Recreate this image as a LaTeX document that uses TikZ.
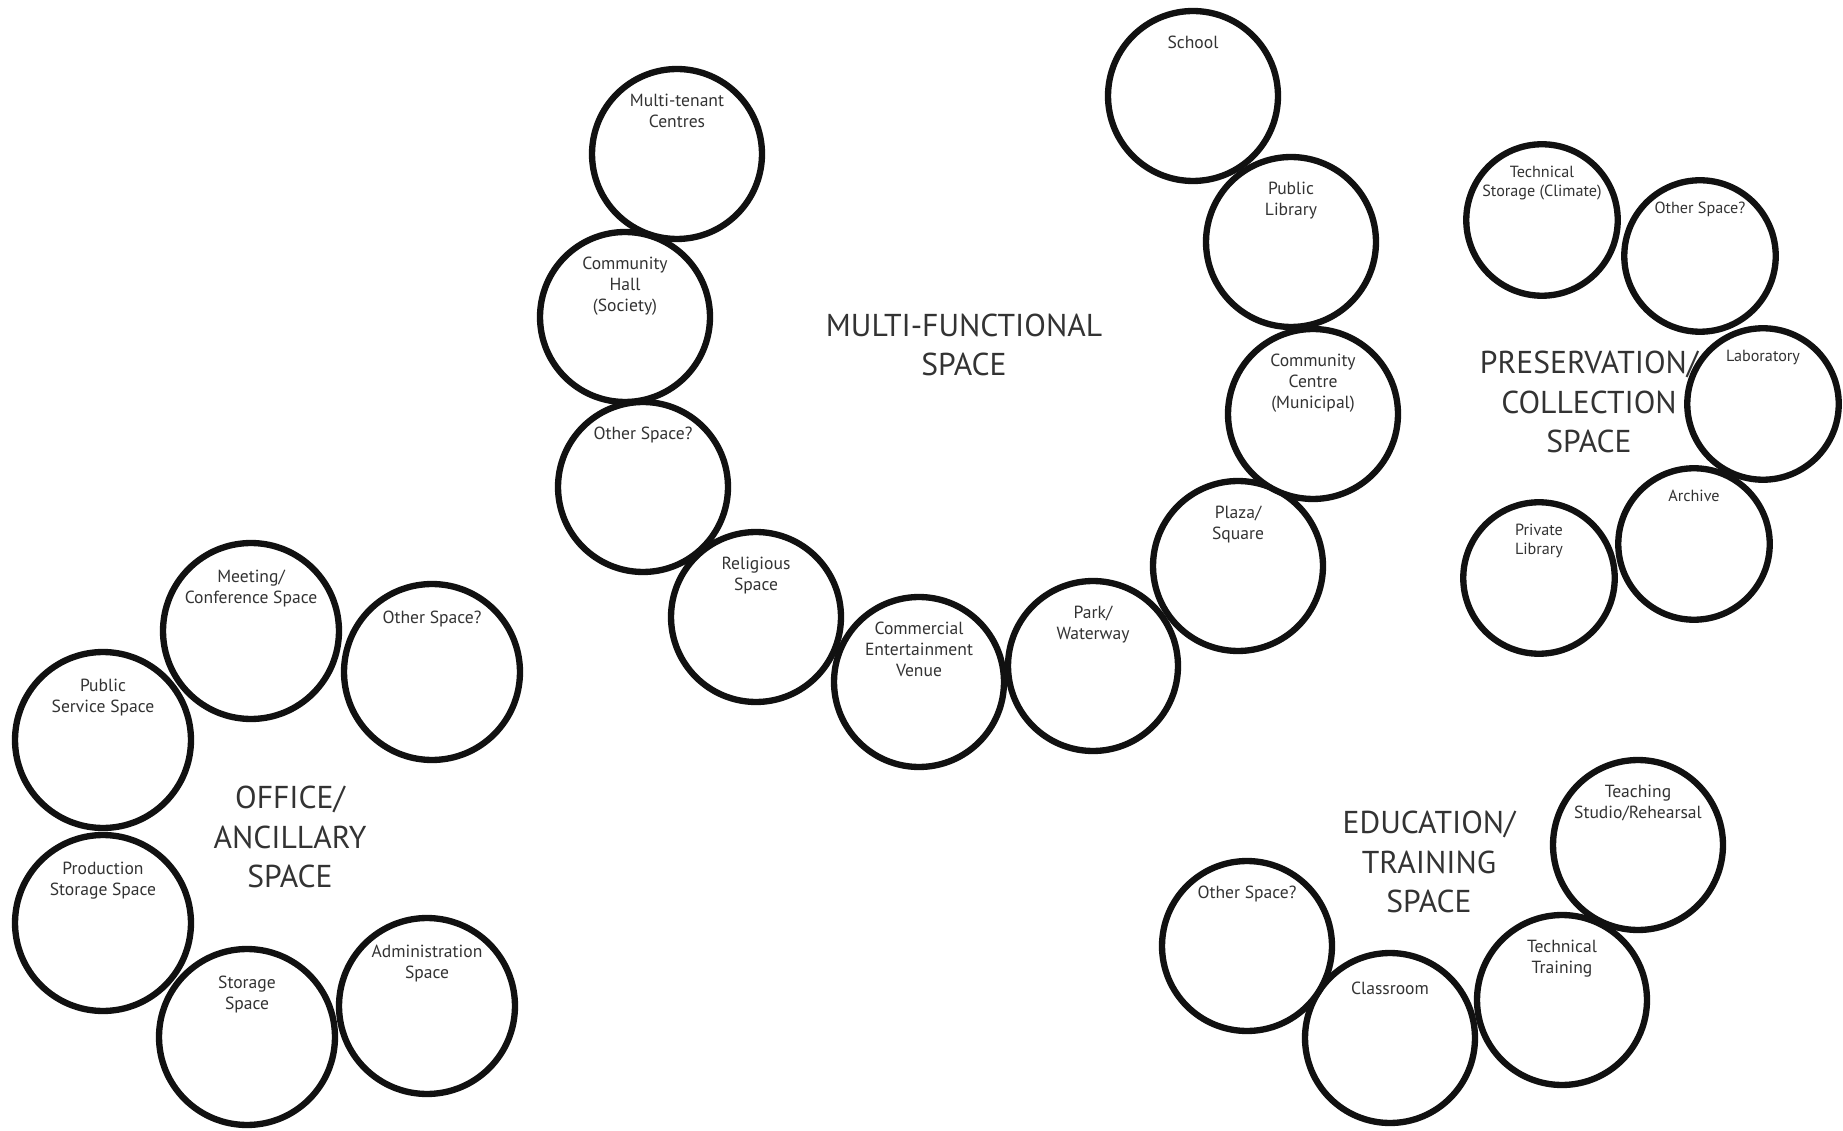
\documentclass[tikz,border=0pt]{standalone}
\usepackage{fontspec}
\setmainfont{PT Sans}
\usetikzlibrary{positioning}
\definecolor{ink}{HTML}{111111}
\definecolor{textgrey}{HTML}{333333}
\tikzset{
  spacecircle/.style={circle, draw=ink, line width=3.6pt, fill=white,
    minimum size=#1, inner sep=0pt},
  spacecircle/.default=3.4cm,
  spacetext/.style={font=\fontsize{10}{12}\selectfont, text=textgrey,
    align=center, inner sep=0pt},
  smalltext/.style={font=\fontsize{9.2}{10.8}\selectfont, text=textgrey,
    align=center, inner sep=0pt},
  grouplabel/.style={font=\fontsize{18}{22.5}\selectfont, text=textgrey,
    align=center, inner sep=0pt},
}

\begin{document}
\begin{tikzpicture}[x=0.02cm, y=-0.02cm]
\useasboundingbox (0,0) rectangle (1843,1131);

% office / ancillary
\node[spacecircle=3.52cm] (meet) at (251,631) {};
\node[spacecircle=3.52cm] (offother) at (432,672) {};
\node[spacecircle=3.52cm] (pubserv) at (103,740) {};
\node[spacecircle=3.52cm] (prodstor) at (103,923) {};
\node[spacecircle=3.52cm] (storage) at (247,1037) {};
\node[spacecircle=3.52cm] (admin) at (427,1006) {};
\node[spacetext, below=0.6cm of meet.north] (meet-t) {Meeting/\\Conference Space};
\node[spacetext, below=0.6cm of offother.north] (offother-t) {Other Space?};
\node[spacetext, below=0.6cm of pubserv.north] (pubserv-t) {Public\\Service Space};
\node[spacetext, below=0.6cm of prodstor.north] (prodstor-t) {Production\\Storage Space};
\node[spacetext, below=0.6cm of storage.north] (storage-t) {Storage\\Space};
\node[spacetext, below=0.6cm of admin.north] (admin-t) {Administration\\Space};
\node[grouplabel] (office) at (290,837) {OFFICE/\\ANCILLARY\\SPACE};

% multi-functional
\node[spacecircle] (tenant) at (677,154) {};
\node[spacecircle] (hall) at (625,317) {};
\node[spacecircle] (mfother) at (643,487) {};
\node[spacecircle] (relig) at (756,617) {};
\node[spacecircle] (commerc) at (919,682) {};
\node[spacecircle] (park) at (1093,666) {};
\node[spacecircle] (plaza) at (1238,566) {};
\node[spacecircle] (ccentre) at (1313,414) {};
\node[spacecircle] (publib) at (1291,242) {};
\node[spacecircle] (school) at (1193,96) {};
\node[spacetext, below=0.56cm of tenant.north] (tenant-t) {Multi-tenant\\Centres};
\node[spacetext, below=0.56cm of hall.north] (hall-t) {Community\\Hall\\(Society)};
\node[spacetext, below=0.56cm of mfother.north] (mfother-t) {Other Space?};
\node[spacetext, below=0.56cm of relig.north] (relig-t) {Religious\\Space};
\node[spacetext, below=0.56cm of commerc.north] (commerc-t) {Commercial\\Entertainment\\Venue};
\node[spacetext, below=0.56cm of park.north] (park-t) {Park/\\Waterway};
\node[spacetext, below=0.56cm of plaza.north] (plaza-t) {Plaza/\\Square};
\node[spacetext, below=0.56cm of ccentre.north] (ccentre-t) {Community\\Centre\\(Municipal)};
\node[spacetext, below=0.56cm of publib.north] (publib-t) {Public\\Library};
\node[spacetext, below=0.56cm of school.north] (school-t) {School};
\node[grouplabel] (multi) at (964,345) {MULTI-FUNCTIONAL\\SPACE};

% preservation / collection
\node[spacecircle=3.03cm] (techstor) at (1542,220) {};
\node[spacecircle=3.03cm] (presother) at (1700,256) {};
\node[spacecircle=3.03cm] (lab) at (1763,404) {};
\node[spacecircle=3.03cm] (archive) at (1694,544) {};
\node[spacecircle=3.03cm] (privlib) at (1539,578) {};
\node[smalltext, below=0.5cm of techstor.north] (techstor-t) {Technical\\Storage (Climate)};
\node[smalltext, below=0.5cm of presother.north] (presother-t) {Other Space?};
\node[smalltext, below=0.5cm of lab.north] (lab-t) {Laboratory};
\node[smalltext, below=0.5cm of archive.north] (archive-t) {Archive};
\node[smalltext, below=0.5cm of privlib.north] (privlib-t) {Private\\Library};
\node[grouplabel] (preserve) at (1589,402) {PRESERVATION/\\COLLECTION\\SPACE};

% education / training
\node[spacecircle] (teach) at (1638,845) {};
\node[spacecircle] (techtrain) at (1562,1000) {};
\node[spacecircle] (classroom) at (1390,1038) {};
\node[spacecircle] (edother) at (1247,946) {};
\node[spacetext, below=0.56cm of teach.north] (teach-t) {Teaching\\Studio/Rehearsal};
\node[spacetext, below=0.56cm of techtrain.north] (techtrain-t) {Technical\\Training};
\node[spacetext, below=0.64cm of classroom.north] (classroom-t) {Classroom};
\node[spacetext, below=0.56cm of edother.north] (edother-t) {Other Space?};
\node[grouplabel] (educ) at (1429,862) {EDUCATION/\\TRAINING\\SPACE};
\end{tikzpicture}
\end{document}
